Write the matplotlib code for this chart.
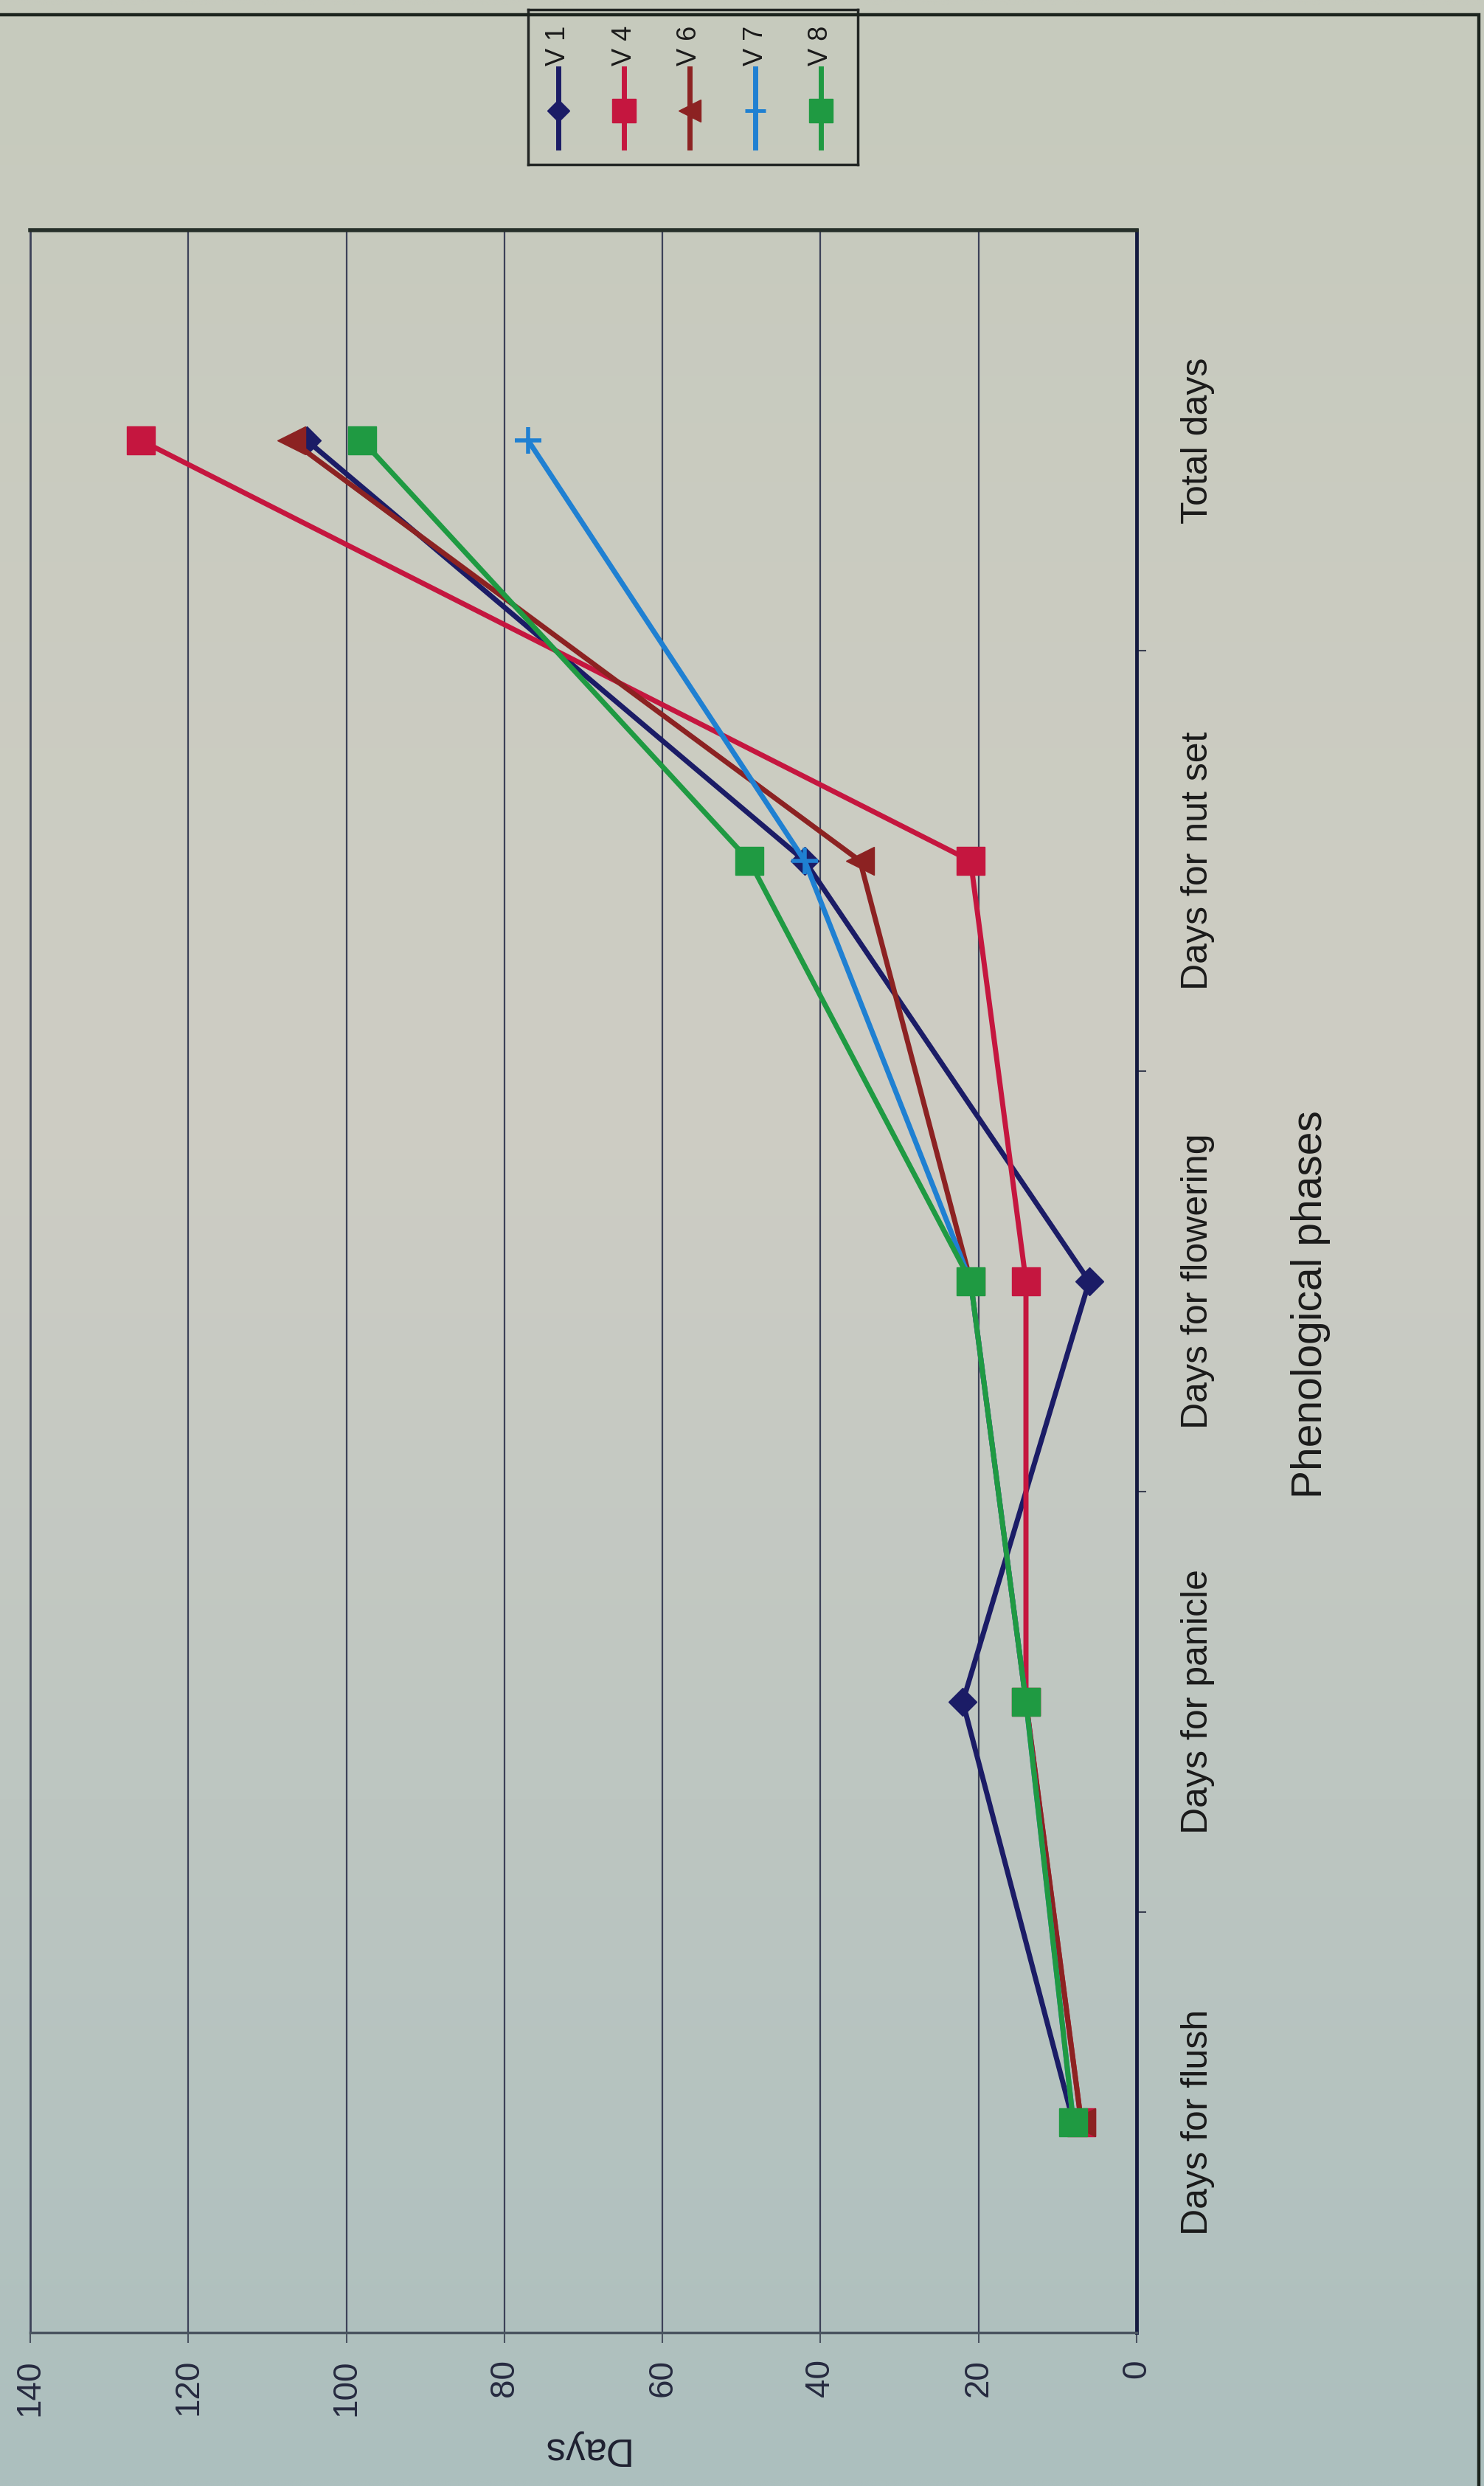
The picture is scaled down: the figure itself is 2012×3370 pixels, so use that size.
import numpy as np
import matplotlib
matplotlib.use("Agg")
import matplotlib.pyplot as plt
from matplotlib.patches import Rectangle

plt.rcParams['font.family'] = ['Liberation Sans', 'DejaVu Sans']

# phenological phases, bottom to top of the page
phases = ["Days for flush", "Days for panicle", "Days for flowering",
          "Days for nut set", "Total days"]

# days per phase for each variety
v1 = [8, 22, 6, 42, 105]
v4 = [7, 14, 14, 21, 126]
v6 = [7, 14, 21, 35, 107]
v7 = [8, 14, 21, 42, 77]
v8 = [8, 14, 21, 49, 98]

labels = ["V 1", "V 4", "V 6", "V 7", "V 8"]
values = [v1, v4, v6, v7, v8]
colors = ["#1b1c66", "#c5163f", "#8c2222", "#1f80d2", "#1f9a42"]
markers = ["D", "s", "<", "+", "s"]
msizes = [19, 28, 27, 26, 28]

W, H = 2012, 3370
fig = plt.figure(figsize=(W / 100, H / 100), dpi=100)

# paper background, slightly warmer at the top and cooler at the bottom
bg = fig.add_axes([0, 0, 1, 1], zorder=-5)
t = np.linspace(0, 1, 200)[:, None]
top = np.array([198, 202, 189]) / 255
mid = np.array([206, 205, 196]) / 255
bot = np.array([172, 191, 190]) / 255
grad = np.where(t < 0.45, top + (mid - top) * (t / 0.45),
                mid + (bot - mid) * ((t - 0.45) / 0.55))
img = np.repeat(grad[:, None, :], 20, axis=1)
bg.imshow(img, aspect='auto', extent=[0, 1, 0, 1], interpolation='bilinear')
bg.set_axis_off()

# outer chart frame
fig.patches.append(Rectangle((-0.01, -0.01), 2005 / W + 0.01, 1 - 20 / H + 0.01,
                             transform=fig.transFigure, fill=False,
                             edgecolor="#1c241e", lw=3.2))

# plot area: value axis runs right-to-left, phases bottom-to-top
ax = fig.add_axes([41 / W, 1 - 3162 / H, 1500 / W, 2850 / H])
ax.patch.set_alpha(0)
ypos = np.arange(len(phases))
for vals, c, m, ms, lab in zip(values, colors, markers, msizes, labels):
    ax.plot(vals, ypos, color=c, lw=5, marker=m, markersize=ms,
            markeredgewidth=4 if m == "+" else 1, markeredgecolor=c,
            markerfacecolor=c, label=lab, zorder=3)

ax.set_xlim(140, 0)
ax.set_ylim(-0.5, len(phases) - 0.5)

ax.set_xticks(range(0, 141, 20))
ax.tick_params(axis='x', direction='out', length=10, width=1.5,
               colors="#4a5260", labelcolor="#262a40", labelsize=33,
               labelrotation=90, pad=16)
ax.xaxis.grid(True, color="#3c4158", lw=1.6)
ax.set_axisbelow(True)
ax.set_xlabel("Days", rotation=180, fontsize=38, color="#1e2030", labelpad=14)

ax.yaxis.tick_right()
ax.set_yticks(ypos)
ax.set_yticklabels(phases, rotation=90, va='center', ha='left',
                   fontsize=36, color="#1a1a1a")
ax.tick_params(axis='y', which='major', length=0, pad=43)
ax.set_yticks(ypos[:-1] + 0.5, minor=True)
ax.tick_params(axis='y', which='minor', length=9, width=1.5, colors="#3a3f50",
               direction='out')

ax.text(1.157, 0.489, "Phenological phases", transform=ax.transAxes,
        rotation=90, ha='center', va='center', fontsize=41, color="#1a1a1a")

ax.spines['top'].set_color("#27302a")
ax.spines['top'].set_linewidth(4)
ax.spines['right'].set_color("#141a40")
ax.spines['right'].set_linewidth(3.5)
ax.spines['bottom'].set_color("#4a5560")
ax.spines['bottom'].set_linewidth(2.5)
ax.spines['left'].set_color("#3c4158")
ax.spines['left'].set_linewidth(2)

# legend, laid out to read along the rotated page
lg = fig.add_axes([716 / W, 1 - 223 / H, 447 / W, 210 / H])
lg.patch.set_alpha(0)
lg.set_xlim(716, 1163)
lg.set_ylim(223, 13)
lg.set_xticks([])
lg.set_yticks([])
for s in lg.spines.values():
    s.set_color("#222624")
    s.set_linewidth(2.5)
for i, (c, m, ms, lab) in enumerate(zip(colors, markers, msizes, labels)):
    x = 757 + 89 * i
    lg.plot([x, x, x], [93, 150, 200], color=c, lw=5, marker=m,
            markersize=ms * 0.8, markevery=[1],
            markeredgewidth=3.5 if m == "+" else 1, markeredgecolor=c,
            markerfacecolor=c)
    lg.text(x, 89, lab, rotation=90, ha='center', va='bottom',
            fontsize=26, color="#1a1a1a")

fig.savefig("out.png", dpi=100)
plt.close(fig)
